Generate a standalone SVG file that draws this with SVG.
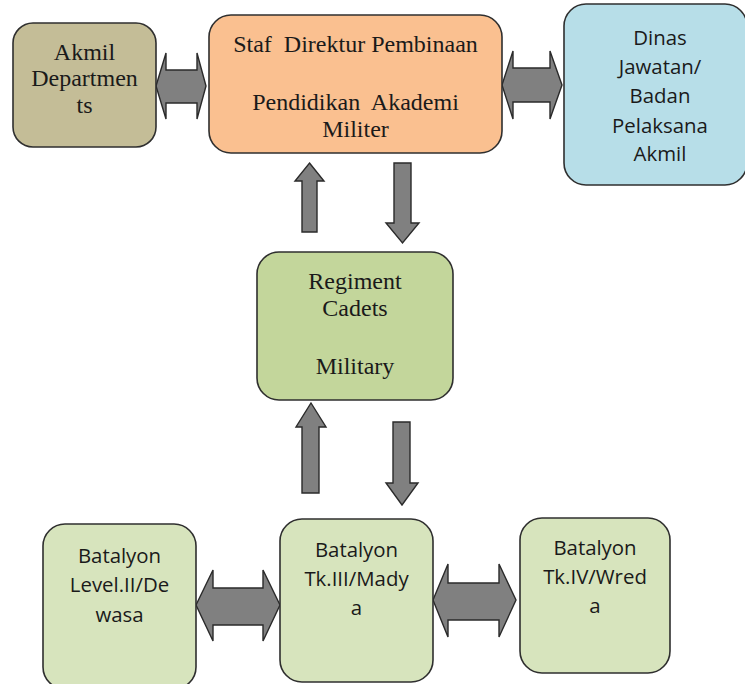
<svg xmlns="http://www.w3.org/2000/svg" width="745" height="684" viewBox="0 0 745 684">
<style>
.box{stroke:#2f2f2f;stroke-width:1.6}
.arr{fill:#808080;stroke:#2a2a2a;stroke-width:1.4;stroke-linejoin:miter}
.serif{font-family:"Liberation Serif","Times New Roman",serif;font-size:24px;fill:#1a1a1a;text-anchor:middle;white-space:pre}
.sans{font-family:"Open Sans","Noto Sans",sans-serif;font-size:20.4px;fill:#1a1a1a;text-anchor:middle}
</style>
<rect width="745" height="684" fill="#ffffff"/>
<g id="connectors">
<path class="arr" d="M156,86 L166,53 L166,70 L197,70 L197,53 L206,86 L197,119 L197,103 L166,103 L166,119 Z"/>
<path class="arr" d="M502,85 L513,51 L513,68 L550,68 L550,51 L562,85 L550,119 L550,102 L513,102 L513,119 Z"/>
<path class="arr" d="M309.5,163 L324,181 L317,181 L317,232 L302,232 L302,181 L295,181 Z"/>
<path class="arr" d="M394,163 L411,163 L411,223 L419,223 L402.5,243 L386,223 L394,223 Z"/>
<path class="arr" d="M311,403 L326,427 L319,427 L319,493 L302,493 L302,427 L296,427 Z"/>
<path class="arr" d="M393,422 L410,422 L410,483 L418,483 L402,505 L386,483 L393,483 Z"/>
<path class="arr" d="M196,605 L213,570 L213,588 L263,588 L263,570 L280,605 L263,641 L263,625 L213,625 L213,641 Z"/>
<path class="arr" d="M433,600 L448,564 L448,583 L499,583 L499,564 L516,600 L499,637 L499,620 L448,620 L448,637 Z"/>
</g>
<g id="akmil">
<rect class="box" x="13" y="23" width="143" height="124" rx="20" fill="#c4bd97"/>
<text class="serif" x="84.5" y="60">Akmil</text>
<text class="serif" x="84.5" y="86">Departmen</text>
<text class="serif" x="84.5" y="113">ts</text>
</g>
<g id="staf">
<rect class="box" x="209" y="15" width="293" height="138" rx="22" fill="#fac090"/>
<text class="serif" x="355.5" y="52">Staf  Direktur Pembinaan</text>
<text class="serif" x="355.5" y="110">Pendidikan  Akademi</text>
<text class="serif" x="355.5" y="137">Militer</text>
</g>
<g id="dinas">
<rect class="box" x="564" y="4" width="183" height="181" rx="22" fill="#b7dee8"/>
<text class="sans" x="660" y="45">Dinas</text>
<text class="sans" x="660" y="74">Jawatan/</text>
<text class="sans" x="660" y="103">Badan</text>
<text class="sans" x="660" y="133">Pelaksana</text>
<text class="sans" x="660" y="161">Akmil</text>
</g>
<g id="regiment">
<rect class="box" x="257" y="252" width="196" height="148" rx="22" fill="#c3d69b"/>
<text class="serif" x="355" y="289">Regiment</text>
<text class="serif" x="355" y="316">Cadets</text>
<text class="serif" x="355" y="374">Military</text>
</g>
<g id="batalyon-2">
<rect class="box" x="43" y="524" width="153" height="165" rx="22" fill="#d7e4bd"/>
<text class="sans" x="119.5" y="563">Batalyon</text>
<text class="sans" x="119.5" y="592">Level.II/De</text>
<text class="sans" x="119.5" y="622">wasa</text>
</g>
<g id="batalyon-3">
<rect class="box" x="280" y="519" width="153" height="163" rx="22" fill="#d7e4bd"/>
<text class="sans" x="356.5" y="557">Batalyon</text>
<text class="sans" x="356.5" y="586">Tk.III/Mady</text>
<text class="sans" x="356.5" y="615">a</text>
</g>
<g id="batalyon-4">
<rect class="box" x="520" y="518" width="150" height="155" rx="22" fill="#d7e4bd"/>
<text class="sans" x="595" y="555">Batalyon</text>
<text class="sans" x="595" y="584">Tk.IV/Wred</text>
<text class="sans" x="595" y="613">a</text>
</g>
</svg>
